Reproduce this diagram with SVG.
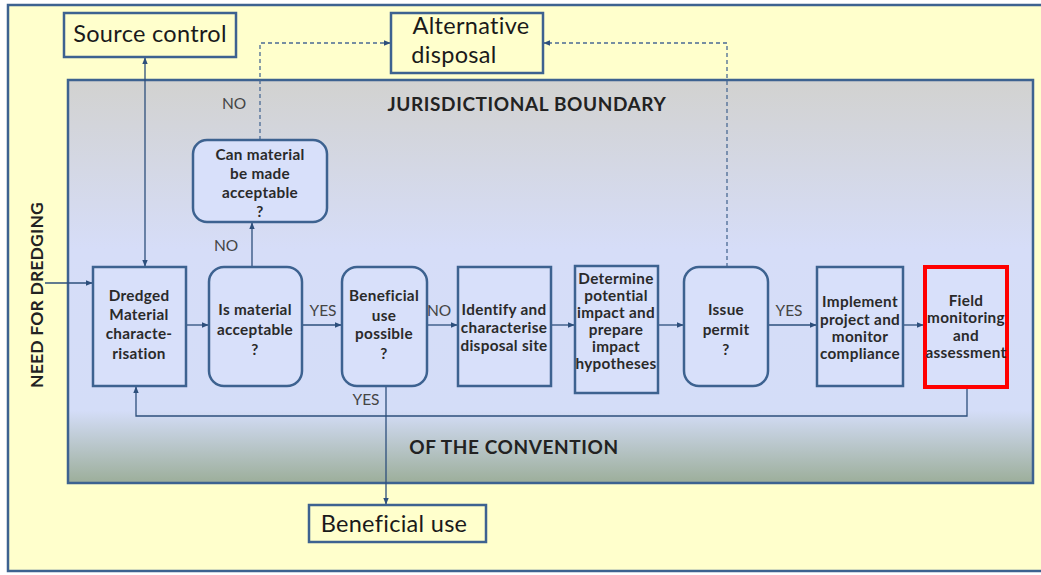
<svg xmlns="http://www.w3.org/2000/svg" width="1041" height="575" viewBox="0 0 1041 575">
<defs>
<linearGradient id="panel" x1="0" y1="0" x2="0" y2="1">
<stop offset="0" stop-color="#d2d2d0"/>
<stop offset="0.42" stop-color="#d6ddf8"/>
<stop offset="0.82" stop-color="#d4ddf8"/>
<stop offset="1" stop-color="#9cae9a"/>
</linearGradient>
<marker id="ah" viewBox="0 0 10 10" refX="9" refY="5" markerWidth="7" markerHeight="7" markerUnits="userSpaceOnUse" orient="auto-start-reverse">
<path d="M0,1 L10,5 L0,9 z" fill="#2d4f7c"/>
</marker>
</defs>
<style>
.box{fill:#d8e0fa;stroke:#3d6290;stroke-width:2.5}
.outbox{fill:#ffffcc;stroke:#3d6290;stroke-width:2.5}
.t{font-family:Lato,"Open Sans",sans-serif;font-weight:bold;font-size:15.3px;letter-spacing:0.3px;fill:#2a2a2a;text-anchor:middle}
.big{font-family:Lato,"Open Sans",sans-serif;font-size:23.5px;letter-spacing:0.3px;fill:#1a1a1a;text-anchor:middle}
.lab{font-family:Lato,"Open Sans",sans-serif;font-size:15.5px;fill:#444;text-anchor:middle}
.head{font-family:Lato,"Open Sans",sans-serif;font-weight:bold;font-size:19px;letter-spacing:0.6px;fill:#222;text-anchor:middle}
.c{fill:none;stroke:#2d4f7c;stroke-width:1.3}
.d{fill:none;stroke:#4a6a94;stroke-width:1.3;stroke-dasharray:4 3}
</style>
<rect x="8" y="5" width="1040" height="566" fill="#ffffcc" stroke="#3d6290" stroke-width="2.5"/>
<rect x="68" y="80" width="965" height="403" fill="url(#panel)" stroke="#3d6290" stroke-width="2.5"/>
<text class="head" x="527" y="111">JURISDICTIONAL BOUNDARY</text>
<text class="head" x="514" y="454">OF THE CONVENTION</text>
<text class="head" x="0" y="0" transform="translate(43,295) rotate(-90)" style="font-size:17.5px;letter-spacing:0.2px">NEED FOR DREDGING</text>

<g id="connectors">
<path class="c" d="M45,283 H92" marker-end="url(#ah)"/>
<path class="c" d="M145,58 V266" marker-start="url(#ah)" marker-end="url(#ah)"/>
<path class="c" d="M186,325 H208" marker-end="url(#ah)"/>
<path class="c" d="M302,325 H341" marker-end="url(#ah)"/>
<path class="c" d="M427,325 H457" marker-end="url(#ah)"/>
<path class="c" d="M551,325 H574" marker-end="url(#ah)"/>
<path class="c" d="M658,325 H683" marker-end="url(#ah)"/>
<path class="c" d="M768,325 H816" marker-end="url(#ah)"/>
<path class="c" d="M903,325 H923" marker-end="url(#ah)"/>
<path class="c" d="M252,267 V223" marker-end="url(#ah)"/>
<path class="c" d="M386,386 V504" marker-end="url(#ah)"/>
<path class="c" d="M967,389 V416 H136 V387" marker-end="url(#ah)"/>
<path class="d" d="M260,140 V43 H390" marker-end="url(#ah)"/>
<path class="d" d="M727,267 V43 H544" marker-end="url(#ah)"/>
<text class="lab" x="234" y="109">NO</text>
<text class="lab" x="226" y="251">NO</text>
<text class="lab" x="323" y="316">YES</text>
<text class="lab" x="439" y="316">NO</text>
<text class="lab" x="789" y="316">YES</text>
<text class="lab" x="366" y="405">YES</text>
</g>

<g id="source-control">
<rect class="outbox" x="64" y="13" width="172" height="44"/>
<text class="big" x="150" y="42">Source control</text>
</g>
<g id="alternative-disposal">
<rect class="outbox" x="391" y="13" width="152" height="60"/>
<text class="big" x="471" y="34">Alternative</text>
<text class="big" x="454" y="63">disposal</text>
</g>
<g id="beneficial-use">
<rect class="outbox" x="309" y="505" width="177" height="37"/>
<text class="big" x="394" y="532">Beneficial use</text>
</g>
<g id="can-material">
<rect class="box" x="193" y="140" width="134" height="82" rx="14"/>
<text class="t" x="260" y="160">Can material</text>
<text class="t" x="260" y="179">be made</text>
<text class="t" x="260" y="198">acceptable</text>
<text class="t" x="260" y="217">?</text>
</g>
<g id="dredged">
<rect class="box" x="93" y="267" width="93" height="119"/>
<text class="t" x="139" y="301">Dredged</text>
<text class="t" x="139" y="320">Material</text>
<text class="t" x="139" y="339">characte-</text>
<text class="t" x="139" y="359">risation</text>
</g>
<g id="is-acceptable">
<rect class="box" x="209" y="267" width="93" height="119" rx="15"/>
<text class="t" x="255" y="315">Is material</text>
<text class="t" x="255" y="335">acceptable</text>
<text class="t" x="255" y="355">?</text>
</g>
<g id="beneficial-possible">
<rect class="box" x="342" y="267" width="85" height="119" rx="15"/>
<text class="t" x="384" y="301">Beneficial</text>
<text class="t" x="384" y="321">use</text>
<text class="t" x="384" y="339">possible</text>
<text class="t" x="384" y="359">?</text>
</g>
<g id="identify">
<rect class="box" x="458" y="267" width="93" height="119"/>
<text class="t" x="504" y="315">Identify and</text>
<text class="t" x="504" y="333">characterise</text>
<text class="t" x="504" y="351">disposal site</text>
</g>
<g id="determine">
<rect class="box" x="575" y="266" width="83" height="127"/>
<text class="t" x="616" y="284">Determine</text>
<text class="t" x="616" y="301">potential</text>
<text class="t" x="616" y="318">impact and</text>
<text class="t" x="616" y="335">prepare</text>
<text class="t" x="616" y="352">impact</text>
<text class="t" x="616" y="369">hypotheses</text>
</g>
<g id="issue-permit">
<rect class="box" x="684" y="267" width="84" height="119" rx="15"/>
<text class="t" x="726" y="315">Issue</text>
<text class="t" x="726" y="335">permit</text>
<text class="t" x="726" y="355">?</text>
</g>
<g id="implement">
<rect class="box" x="817" y="267" width="86" height="119"/>
<text class="t" x="860" y="307">Implement</text>
<text class="t" x="860" y="325">project and</text>
<text class="t" x="860" y="342">monitor</text>
<text class="t" x="860" y="359">compliance</text>
</g>
<g id="field-monitoring">
<rect x="925" y="267" width="82" height="120" fill="#d8e0fa" stroke="#ff0000" stroke-width="4"/>
<text class="t" x="966" y="306">Field</text>
<text class="t" x="966" y="323">monitoring</text>
<text class="t" x="966" y="341">and</text>
<text class="t" x="966" y="358">assessment</text>
</g>
</svg>
